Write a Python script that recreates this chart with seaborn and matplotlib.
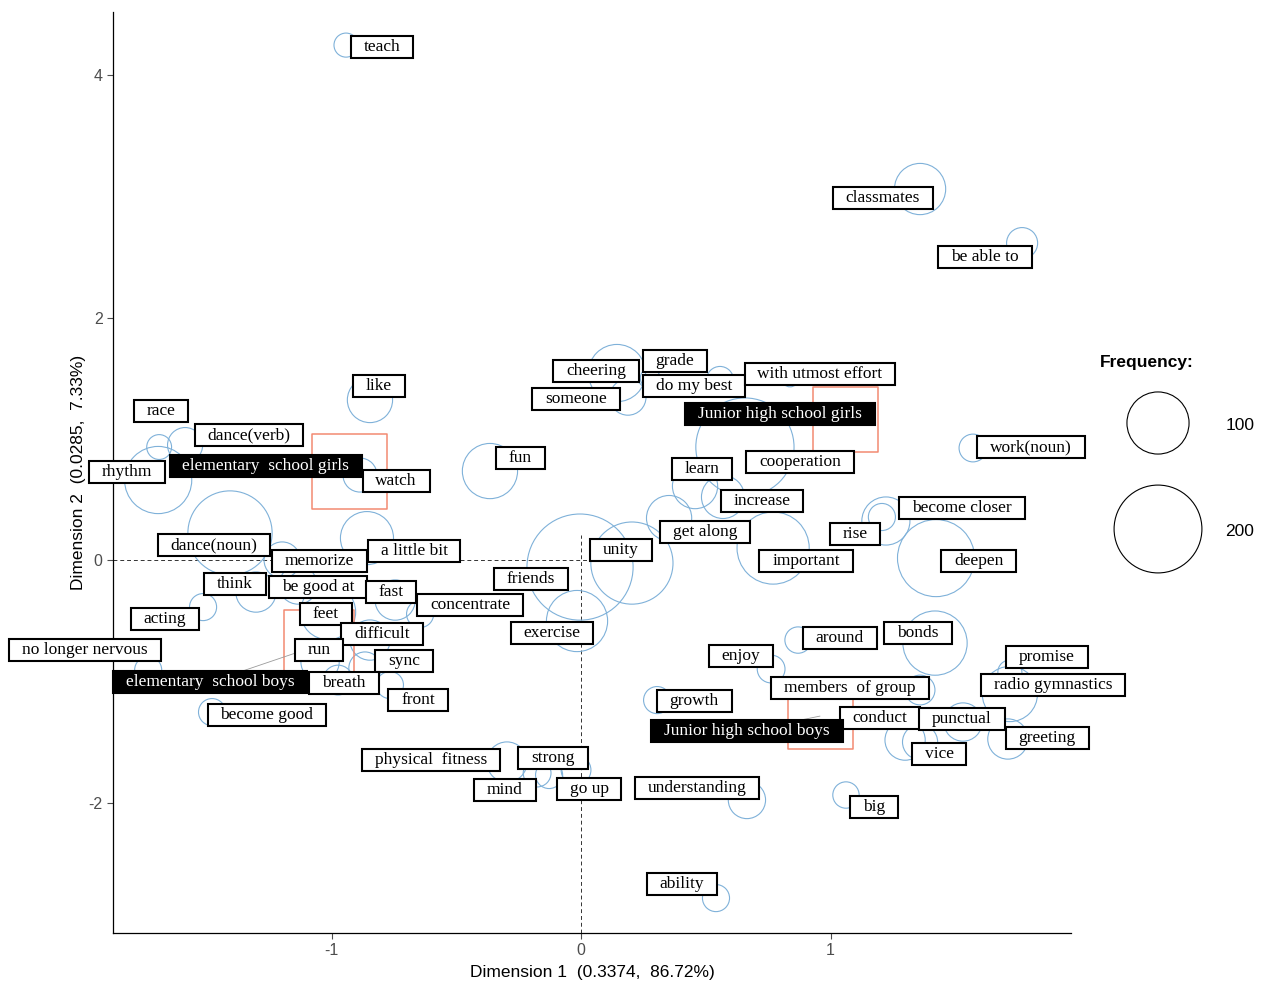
import numpy as np
import pandas as pd
import matplotlib
matplotlib.use("Agg")
import matplotlib.pyplot as plt
import seaborn as sns
from matplotlib.path import Path

# ---------------- data ----------------
words = ["teach", "classmates", "be able to", "like", "race", "dance(verb)", "rhythm",
         "watch", "fun", "cheering", "grade", "do my best", "with utmost effort", "someone",
         "learn", "cooperation", "work(noun)", "increase", "become closer", "rise",
         "get along", "unity", "important", "deepen", "dance(noun)", "memorize",
         "a little bit", "think", "be good at", "fast", "friends", "concentrate", "acting",
         "feet", "difficult", "exercise", "no longer nervous", "run", "sync", "breath",
         "front", "become good", "physical  fitness", "strong", "mind", "go up",
         "understanding", "around", "bonds", "enjoy", "promise", "members  of group",
         "radio gymnastics", "growth", "conduct", "punctual", "greeting", "vice", "big",
         "ability"]
dim1 = [-0.942, 1.359, 1.768, -0.846, -1.691, -1.587, -1.695,
        -0.886, -0.365, 0.144, 0.277, 0.557, 0.838, 0.188,
        0.457, 0.657, 1.571, 0.569, 1.222, 1.206,
        0.353, 0.204, 0.770, 1.423, -1.407, -1.198,
        -0.858, -1.303, -1.134, -0.745, -0.004, -0.645, -1.515,
        -1.014, -0.846, -0.016, -1.735, -1.046, -0.866, -0.974,
        -0.766, -1.479, -0.297, -0.176, -0.128, -0.020,
        0.665, 0.870, 1.419, 0.762, 1.719, 1.359,
        1.719, 0.305, 1.299, 1.531, 1.711, 1.359, 1.062,
        0.541]
dim2 = [4.247, 3.060, 2.614, 1.320, 0.932, 0.948, 0.660,
        0.701, 0.734, 1.542, 1.501, 1.485, 1.501, 1.344,
        0.610, 0.932, 0.924, 0.520, 0.322, 0.355,
        0.346, -0.025, 0.099, 0.016, 0.223, 0.000,
        0.181, -0.264, -0.206, -0.330, -0.058, -0.445, -0.388,
        -0.429, -0.660, -0.503, -0.907, -0.841, -0.891, -0.990,
        -1.031, -1.254, -1.666, -1.757, -1.773, -1.732,
        -1.979, -0.660, -0.685, -0.899, -0.924, -1.072,
        -1.105, -1.155, -1.485, -1.336, -1.476, -1.501, -1.938,
        -2.788]
freq = [15, 68, 25, 53, 16, 32, 117,
        30, 79, 85, 10, 19, 8, 34,
        53, 250, 20, 48, 60, 19,
        53, 175, 135, 154, 184, 34,
        73, 42, 38, 42, 292, 19, 19,
        79, 42, 97, 19, 38, 27, 23,
        19, 19, 42, 20, 19, 23,
        36, 18, 107, 20, 15, 23,
        79, 19, 42, 38, 42, 32, 18,
        19]

groups = ["elementary  school girls", "elementary  school boys",
          "Junior high school girls", "Junior high school boys"]
group_dim1 = [-0.930, -1.050, 1.062, 0.958]
group_dim2 = [0.734, -0.701, 1.155, -1.287]

x_tick_values = [-1, 0, 1]
y_tick_values = [-2, 0, 2, 4]
x_title = "Dimension 1  (0.3374,  86.72%)"
y_title = "Dimension 2  (0.0285,  7.33%)"
legend_title = "Frequency:"
legend_freqs = [100, 200]

# ---------------- layout (repelled label positions, data units) ----------------
word_label_x = [-0.798, 1.210, 1.619, -0.810, -1.683, -1.331, -1.820,
                -0.741, -0.244, 0.060, 0.377, 0.453, 0.958, -0.020,
                0.485, 0.878, 1.804, 0.725, 1.527, 1.098,
                0.497, 0.160, 0.902, 1.595, -1.471, -1.050,
                -0.669, -1.387, -1.054, -0.762, -0.200, -0.445, -1.667,
                -1.022, -0.798, -0.116, -1.988, -1.050, -0.709, -0.950,
                -0.653, -1.259, -0.601, -0.112, -0.305, 0.032,
                0.465, 1.038, 1.351, 0.641, 1.868, 1.078,
                1.892, 0.453, 1.198, 1.527, 1.868, 1.435, 1.174,
                0.405]
word_label_y = [4.231, 2.986, 2.499, 1.435, 1.229, 1.031, 0.726,
                0.652, 0.841, 1.559, 1.641, 1.435, 1.534, 1.328,
                0.751, 0.808, 0.932, 0.487, 0.429, 0.214,
                0.231, 0.082, -0.008, -0.008, 0.124, -0.008,
                0.074, -0.198, -0.223, -0.264, -0.157, -0.371, -0.487,
                -0.445, -0.610, -0.602, -0.742, -0.742, -0.833, -1.014,
                -1.155, -1.278, -1.649, -1.633, -1.897, -1.889,
                -1.880, -0.643, -0.602, -0.792, -0.800, -1.056,
                -1.031, -1.163, -1.303, -1.311, -1.468, -1.600, -2.037,
                -2.672]
group_label_x = [-1.263, -1.487, 0.798, 0.665]
group_label_y = [0.775, -1.006, 1.204, -1.410]
group_square_px = [75, 70, 65, 65]

# ---------------- style ----------------
W, H, DPI = 1266, 983, 100
CIRCLE_COLOR = "#7fb1d9"
SQUARE_COLOR = "#f28a72"
SERIF = ["Liberation Serif", "DejaVu Serif"]
SANS = ["Liberation Sans", "DejaVu Sans"]
S_PER_FREQ = 20.0   # marker area (pt^2) per unit of frequency

sns.set_style("ticks")
plt.rcParams["font.family"] = SANS
plt.rcParams["axes.unicode_minus"] = False

fig = plt.figure(figsize=(W / DPI, H / DPI), dpi=DPI)
ax = fig.add_axes([113 / W, 1 - 933 / H, (1071 - 113) / W, (933 - 12) / H])

df = pd.DataFrame({"word": words, "dim1": dim1, "dim2": dim2, "freq": freq})
gdf = pd.DataFrame({"group": groups, "dim1": group_dim1, "dim2": group_dim2})

xlim = (-1.876, 1.964)
ylim = (-3.076, 4.520)

# reference lines (lower-left quadrant only, as in the original)
ax.plot([xlim[0], 0.045], [0, 0], ls=(0, (4, 3)), color="#333333", lw=0.7, zorder=1)
ax.plot([0, 0], [ylim[0], 0.205], ls=(0, (4, 3)), color="#333333", lw=0.7, zorder=1)

# word bubbles
sns.scatterplot(data=df, x="dim1", y="dim2", size="freq",
                size_norm=(0, 300), sizes=(0, 300 * S_PER_FREQ),
                marker="o", facecolor="none", edgecolor=CIRCLE_COLOR,
                linewidth=0.8, legend=False, ax=ax, zorder=2)
coll = ax.collections[-1]
coll.set_facecolor("none")
coll.set_edgecolor(CIRCLE_COLOR)
coll.set_linewidth(0.8)

# group squares
sq_sizes = {g: (p * 0.72) ** 2 for g, p in zip(groups, group_square_px)}
sns.scatterplot(data=gdf, x="dim1", y="dim2", size="group", sizes=sq_sizes,
                marker="s", facecolor="none", edgecolor=SQUARE_COLOR,
                linewidth=1.1, legend=False, ax=ax, zorder=2)
coll = ax.collections[-1]
coll.set_facecolor("none")
coll.set_edgecolor(SQUARE_COLOR)
coll.set_linewidth(1.1)


def label_box(x0, y0, width, height, mutation_size):
    px = 0.74 * mutation_size
    py = 0.17 * mutation_size
    x0, y0 = x0 - px, y0 - py
    x1, y1 = x0 + width + 2 * px, y0 + height + 2 * py
    return Path([(x0, y0), (x1, y0), (x1, y1), (x0, y1), (x0, y0)], closed=True)


# segments from group labels to their points
for gx, gy, lx, ly in zip(group_dim1, group_dim2, group_label_x, group_label_y):
    ax.plot([lx, gx], [ly, gy], color="#9a9a9a", lw=0.6, zorder=3)

FS = 12.5
for i, (w, lx, ly) in enumerate(zip(words, word_label_x, word_label_y)):
    ax.text(lx, ly, w, ha="center", va="center", fontsize=FS, family=SERIF,
            color="black", zorder=5 + i * 0.01,
            bbox=dict(boxstyle=label_box, facecolor="white", edgecolor="black",
                      linewidth=1.5))
for g, lx, ly in zip(groups, group_label_x, group_label_y):
    ax.text(lx, ly, g, ha="center", va="center", fontsize=FS, family=SERIF,
            color="white", zorder=6,
            bbox=dict(boxstyle=label_box, facecolor="black", edgecolor="black",
                      linewidth=1.5))

ax.set_xlim(*xlim)
ax.set_ylim(*ylim)
ax.set_xticks(x_tick_values)
ax.set_yticks(y_tick_values)
ax.tick_params(axis="both", colors="#4d4d4d", labelsize=11.5, length=4, width=0.8,
               direction="out")
for lab in ax.get_xticklabels() + ax.get_yticklabels():
    lab.set_color("#4d4d4d")
ax.set_xlabel(x_title, fontsize=12.5, color="black", labelpad=5)
ax.set_ylabel(y_title, fontsize=12.5, color="black", labelpad=2)
for side in ["top", "right"]:
    ax.spines[side].set_visible(False)
for side in ["left", "bottom"]:
    ax.spines[side].set_color("black")
    ax.spines[side].set_linewidth(0.9)
ax.grid(False)
ax.set_facecolor("white")

# ---------------- frequency legend ----------------
lax = fig.add_axes([0, 0, 1, 1], zorder=-1)
lax.set_xlim(0, W)
lax.set_ylim(H, 0)
lax.axis("off")
leg_y = [423, 529]
lax.scatter([1158] * len(legend_freqs), leg_y,
            s=[f * S_PER_FREQ for f in legend_freqs],
            facecolors="none", edgecolors="black", linewidths=0.8)
for f, yy in zip(legend_freqs, leg_y):
    lax.text(1240, yy + 2, str(f), ha="center", va="center", fontsize=12.5,
             color="black")
lax.text(1147, 363, legend_title, ha="center", va="center", fontsize=12.5,
         fontweight="bold", color="black")

fig.savefig("out.png", dpi=DPI, facecolor="white")
